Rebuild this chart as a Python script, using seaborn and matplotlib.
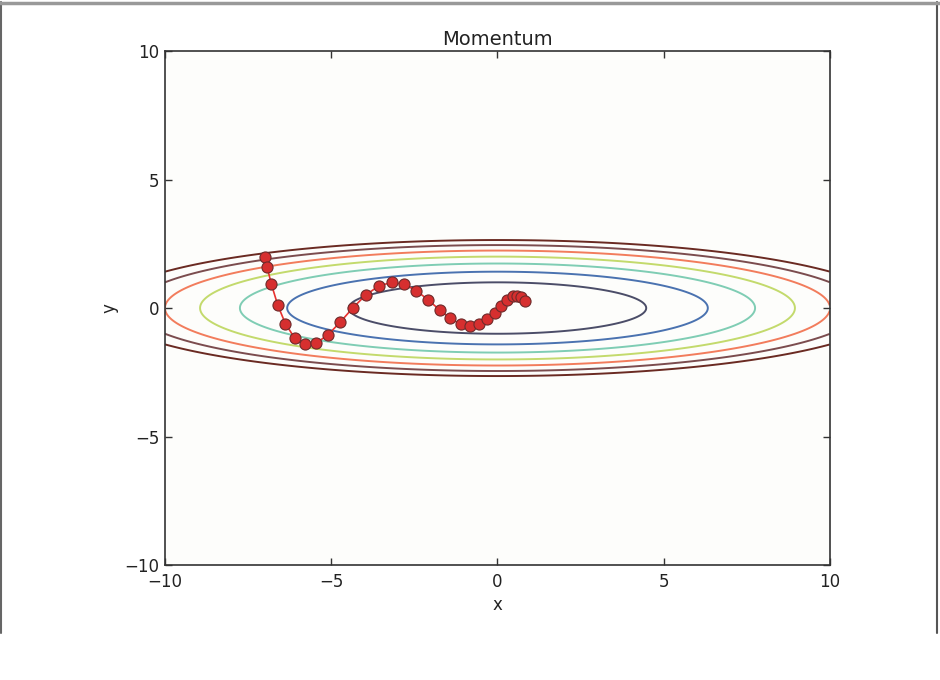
import numpy as np
import pandas as pd
import matplotlib
matplotlib.use("Agg")
import matplotlib.pyplot as plt
import seaborn as sns
from matplotlib.lines import Line2D

# optimizer path
path_x = [-7.0, -6.93, -6.798, -6.611, -6.376, -6.101, -5.793, -5.458, -5.101, -4.729,
          -4.348, -3.960, -3.572, -3.187, -2.809, -2.440, -2.084, -1.743, -1.418, -1.112,
          -0.825, -0.558, -0.313, -0.089, 0.113, 0.295, 0.455, 0.594, 0.714, 0.814]
path_y = [2.0, 1.6, 0.92, 0.124, -0.617, -1.161, -1.418, -1.366, -1.046, -0.548,
          0.009, 0.509, 0.857, 0.998, 0.927, 0.676, 0.316, -0.071, -0.406, -0.626,
          -0.699, -0.624, -0.433, -0.174, 0.094, 0.316, 0.453, 0.486, 0.418, 0.273]

# contour levels and their colours
levels = [1, 2, 3, 4, 5, 6, 7]
level_colors = ["#4b4d68", "#4a72b0", "#7fcdb4", "#c3da6c", "#f27c5c", "#7b4c4e", "#6a2a22"]
ticks = [-10, -5, 0, 5, 10]

sns.set_style("ticks")
plt.rcParams["font.family"] = ["DejaVu Sans"]

fig = plt.figure(figsize=(9.4, 6.8), dpi=100)
ax = fig.add_axes([0.1755, 0.169, 0.7075, 0.756])
ax.set_facecolor("#fdfdfb")

gx = np.arange(-10, 10, 0.01)
gy = np.arange(-5, 5, 0.01)
X, Y = np.meshgrid(gx, gy)
Z = X ** 2 / 20.0 + Y ** 2
ax.contour(X, Y, Z, levels=levels, colors=level_colors, linewidths=1.4)

df = pd.DataFrame({"x": path_x, "y": path_y})
sns.lineplot(data=df, x="x", y="y", sort=False, estimator=None, ax=ax,
             color="#e8312f", linewidth=1.2, marker="o", markersize=8,
             markerfacecolor="#d62f2f", markeredgecolor="#6e2b2b", markeredgewidth=0.8)

ax.set_xlim(-10, 10)
ax.set_ylim(-10, 10)
ax.set_xticks(ticks)
ax.set_yticks(ticks)
ax.tick_params(direction="in", top=True, right=True, length=5, width=1,
               labelsize=12, colors="#333333", labelcolor="#222222", pad=4)
ax.tick_params(axis="x", pad=6)
for s in ax.spines.values():
    s.set_color("#333333")
    s.set_linewidth(1.2)
ax.set_title("Momentum", fontsize=14, color="#222222", pad=4)
ax.set_xlabel("x", fontsize=12, color="#222222", labelpad=3)
ax.set_ylabel("y", fontsize=12, color="#222222", labelpad=4)

# frame around the figure as in the scan
fh = 1 - 633 / 680
fig.add_artist(Line2D([0.001, 0.001], [fh, 0.997], transform=fig.transFigure, color="#666666", lw=1.5))
fig.add_artist(Line2D([0.997, 0.997], [fh, 0.997], transform=fig.transFigure, color="#555555", lw=1.5))
fig.add_artist(Line2D([0.0, 1.0], [0.996, 0.996], transform=fig.transFigure, color="#999999", lw=2.5))

fig.savefig("out.png", dpi=100)
